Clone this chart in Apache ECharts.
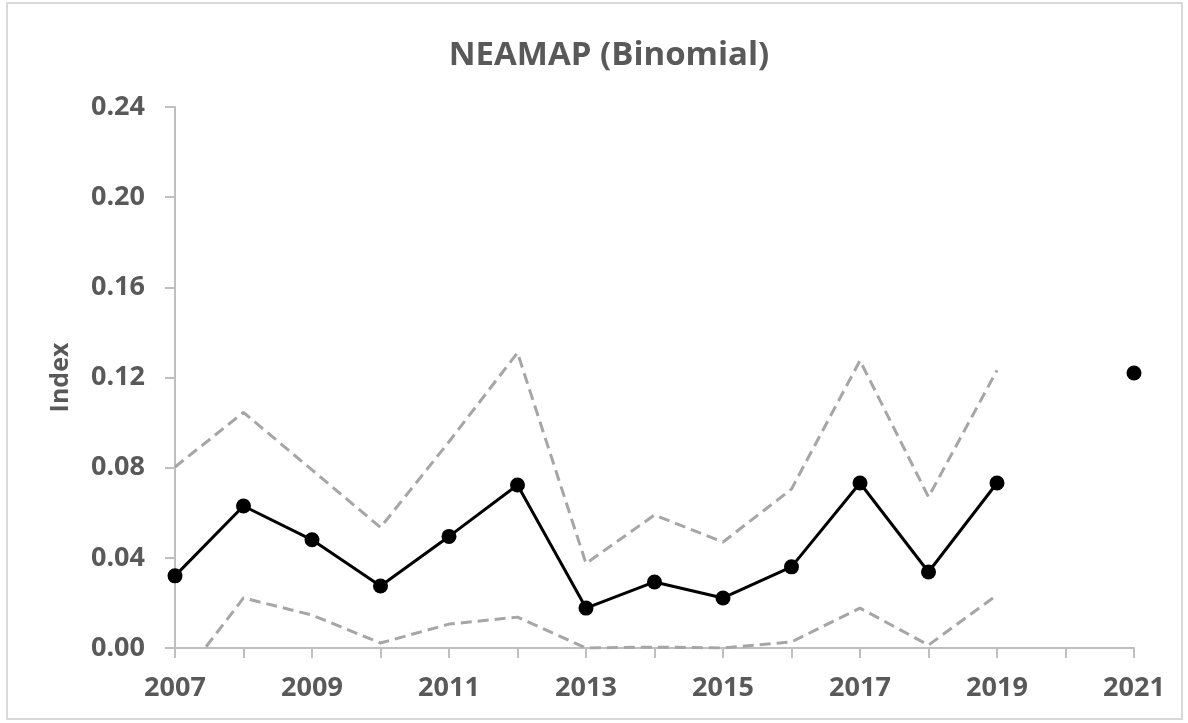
<!DOCTYPE html>
<html>
<head>
<meta charset="utf-8">
<script src="https://cdn.jsdelivr.net/npm/echarts@6/dist/echarts.min.js"></script>
<style>html,body{margin:0;padding:0;background:#fff;}#c{width:1188px;height:723px;}</style>
</head>
<body>
<div id="c"></div>
<script>
const years = [2007,2008,2009,2010,2011,2012,2013,2014,2015,2016,2017,2018,2019,2020,2021];
const indexValues = [0.032,0.063,0.048,0.0275,0.0495,0.0723,0.0177,0.0293,0.0222,0.036,0.0732,0.0337,0.0732,null,0.122];
const upperCI = [0.0803,0.1045,0.079,0.0535,0.0915,0.131,0.0375,0.059,0.047,0.0705,0.1275,0.067,0.1232,null,null];
const lowerCI = [-0.0174,0.0222,0.0146,0.0022,0.0106,0.0137,0.0,0.0004,0.0,0.0027,0.0177,0.0013,0.0235,null,null];
const yTicks = [0,0.04,0.08,0.12,0.16,0.20,0.24];
const titleText = 'NEAMAP (Binomial)';
const yName = 'Index';

const pair = arr => years.map((y,i)=>[y, arr[i]]);
const font = '"Open Sans", "Liberation Sans", sans-serif';
const chart = echarts.init(document.getElementById('c'));
chart.setOption({
  animation:false,
  backgroundColor:'#fff',
  title:{text:titleText,left:604,top:34,textAlign:'center',
    textStyle:{fontFamily:font,fontWeight:'bold',fontSize:33,color:'#595959'}},
  graphic:[{type:'rect',shape:{x:7,y:3,width:1175,height:716},
    style:{fill:'none',stroke:'#D9D9D9',lineWidth:2},silent:true,z:-1}],
  grid:{left:175,right:54,top:107,bottom:75},
  xAxis:{type:'value',min:2007,max:2021,interval:1,
    axisLine:{lineStyle:{color:'#BFBFBF',width:2}},
    axisTick:{show:true,length:10,lineStyle:{color:'#BFBFBF',width:2}},
    splitLine:{show:false},
    axisLabel:{margin:27,fontFamily:font,fontWeight:'bold',fontSize:27,color:'#595959',
      formatter:v=> (v%2===1 ? String(v) : '')}},
  yAxis:{type:'value',min:yTicks[0],max:yTicks[yTicks.length-1],interval:0.04,
    name:yName,nameLocation:'middle',nameGap:102,
    nameTextStyle:{fontFamily:font,fontWeight:'bold',fontSize:25,color:'#595959'},
    axisLine:{show:true,lineStyle:{color:'#BFBFBF',width:2}},
    axisTick:{show:true,length:10,lineStyle:{color:'#BFBFBF',width:2}},
    splitLine:{show:false},
    axisLabel:{margin:30,fontFamily:font,fontWeight:'bold',fontSize:27,color:'#595959',
      formatter:v=>v.toFixed(2)}},
  series:[
    {type:'line',data:pair(upperCI),symbol:'none',clip:true,
      lineStyle:{color:'#A6A6A6',width:3,type:[11,6]},z:2},
    {type:'line',data:pair(lowerCI),symbol:'none',clip:true,
      lineStyle:{color:'#A6A6A6',width:3,type:[11,6]},z:2},
    {type:'line',data:pair(indexValues),symbol:'circle',symbolSize:15,clip:false,
      connectNulls:false,
      itemStyle:{color:'#000'},lineStyle:{color:'#000',width:3},z:3}
  ]
});
</script>
</body>
</html>
